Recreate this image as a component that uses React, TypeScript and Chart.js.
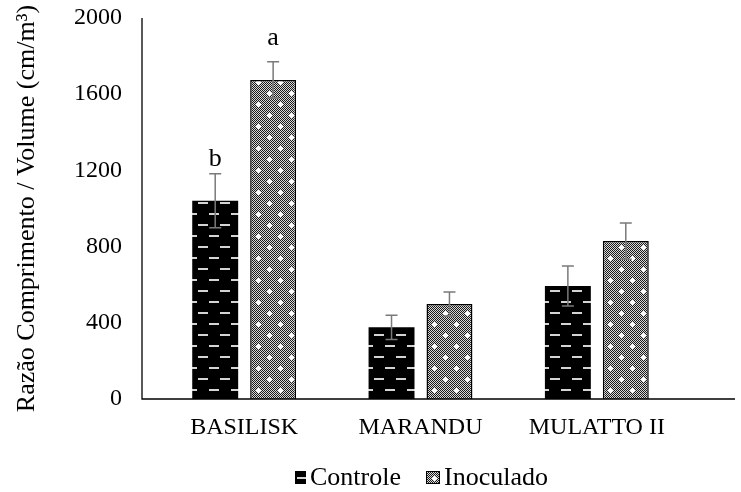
import React, { useEffect, useRef } from "react";
import { Chart, registerables } from "chart.js";

Chart.register(...registerables);

const categories = ["BASILISK", "MARANDU", "MULATTO II"];
const controle = [1041, 376, 593];
const inoculado = [1675, 499, 829];
const controleErr = [142, 64, 105];
const inoculadoErr = [95, 63, 95];
const controleLetters = ["b", "", ""];
const inoculadoLetters = ["a", "", ""];
const yTicks = [0, 400, 800, 1200, 1600, 2000];
const seriesNames = ["Controle", "Inoculado"];

const FONT = '"Liberation Serif", "Times New Roman", serif';

function makeControlePattern(ctx: CanvasRenderingContext2D) {
  const c = document.createElement("canvas");
  c.width = 22;
  c.height = 22;
  const g = c.getContext("2d")!;
  g.fillStyle = "#000";
  g.fillRect(0, 0, 22, 22);
  g.fillStyle = "#d4d4d4";
  g.fillRect(0, 4, 10, 2);
  g.fillRect(11, 15, 10, 2);
  return ctx.createPattern(c, "repeat")!;
}

function makeInoculadoPattern(ctx: CanvasRenderingContext2D) {
  const c = document.createElement("canvas");
  c.width = 22;
  c.height = 22;
  const g = c.getContext("2d")!;
  g.fillStyle = "#d8d8d8";
  g.fillRect(0, 0, 22, 22);
  g.fillStyle = "#1a1a1a";
  for (let y = 0; y < 22; y++) {
    for (let x = 0; x < 22; x++) {
      if ((x + y) % 2 === 0) g.fillRect(x, y, 1, 1);
    }
  }
  g.fillStyle = "#ffffff";
  const star = (cx: number, cy: number) => {
    g.fillRect(cx - 1, cy - 1, 3, 3);
    g.fillRect(cx - 2, cy, 5, 1);
    g.fillRect(cx, cy - 2, 1, 5);
  };
  star(5, 5);
  star(16, 16);
  return ctx.createPattern(c, "repeat")!;
}

export default function App() {
  const ref = useRef<HTMLCanvasElement | null>(null);

  useEffect(() => {
    const canvas = ref.current!;
    const ctx = canvas.getContext("2d")!;
    const pC = makeControlePattern(ctx);
    const pI = makeInoculadoPattern(ctx);
    const errs = [controleErr, inoculadoErr];
    const letters = [controleLetters, inoculadoLetters];
    const fills = [pC, pI];

    const extras = {
      id: "extras",
      afterDatasetsDraw(chart: any) {
        const c = chart.ctx;
        const y = chart.scales.y;
        const area = chart.chartArea;
        c.save();
        // axis lines
        c.strokeStyle = "#000";
        c.lineWidth = 1.3;
        c.beginPath();
        c.moveTo(area.left - 14, area.top);
        c.lineTo(area.left - 14, area.bottom);
        c.lineTo(735, area.bottom);
        c.stroke();
        // error bars
        chart.data.datasets.forEach((ds: any, di: number) => {
          const meta = chart.getDatasetMeta(di);
          meta.data.forEach((bar: any, i: number) => {
            const v = ds.data[i];
            const e = errs[di][i];
            const yt = y.getPixelForValue(v + e);
            const yb = y.getPixelForValue(v - e);
            c.strokeStyle = "#7a7a7a";
            c.lineWidth = 1.5;
            c.beginPath();
            c.moveTo(bar.x, yt);
            c.lineTo(bar.x, yb);
            c.moveTo(bar.x - 6, yt);
            c.lineTo(bar.x + 6, yt);
            c.moveTo(bar.x - 6, yb);
            c.lineTo(bar.x + 6, yb);
            c.stroke();
            const L = letters[di][i];
            if (L) {
              c.fillStyle = "#000";
              c.font = `26px ${FONT}`;
              c.textAlign = "center";
              c.textBaseline = "alphabetic";
              c.fillText(L, bar.x, y.getPixelForValue(v) - 35);
            }
          });
        });
        // legend
        c.font = `26px ${FONT}`;
        c.textBaseline = "alphabetic";
        c.textAlign = "left";
        const base = 485;
        const boxes = [
          { x: 295, w: 11 },
          { x: 426, w: 14 },
        ];
        seriesNames.forEach((n, i) => {
          const b = boxes[i];
          c.fillStyle = fills[i];
          c.fillRect(b.x, base - 14, b.w, 13);
          if (i === 1) {
            c.strokeStyle = "#000";
            c.lineWidth = 1;
            c.strokeRect(b.x + 0.5, base - 13.5, b.w - 1, 12);
          }
          c.fillStyle = "#000";
          c.fillText(n, b.x + b.w + 4, base);
        });
        c.restore();
      },
    };

    const chart = new Chart(canvas, {
      type: "bar",
      data: {
        labels: categories,
        datasets: [
          {
            label: seriesNames[0],
            data: controle,
            backgroundColor: pC,
            borderWidth: 0,
            categoryPercentage: 0.657,
            barPercentage: 0.793,
          },
          {
            label: seriesNames[1],
            data: inoculado,
            backgroundColor: pI,
            borderColor: "#000",
            borderWidth: 1.5,
            categoryPercentage: 0.657,
            barPercentage: 0.793,
          },
        ],
      },
      options: {
        animation: false,
        responsive: false,
        devicePixelRatio: 1,
        layout: { padding: { top: 18, right: 56, left: 0, bottom: 0 } },
        plugins: {
          legend: { display: false },
          tooltip: { enabled: false },
        },
        scales: {
          x: {
            grid: { display: false, drawTicks: false },
            border: { display: false },
            ticks: {
              color: "#000",
              font: { family: FONT, size: 24 },
              padding: 14,
            },
            afterFit: (s: any) => {
              s.height = 93;
              s.paddingLeft = 0;
              s.paddingRight = 0;
            },
          },
          y: {
            min: 0,
            max: 2000,
            afterBuildTicks: (s: any) => {
              s.ticks = yTicks.map((v) => ({ value: v }));
            },
            grid: { display: false, drawTicks: false },
            border: { display: false },
            ticks: {
              color: "#000",
              font: { family: FONT, size: 24 },
              padding: 34,
              callback: (v: any) => String(v),
            },
            title: {
              display: true,
              text: "Razão Comprimento / Volume (cm/m³)",
              color: "#000",
              font: { family: FONT, size: 26, weight: "normal" },
              padding: { top: 12, bottom: 0 },
            },
            afterFit: (s: any) => {
              s.width = 156;
              s.paddingTop = 0;
              s.paddingBottom = 0;
            },
          },
        },
      },
      plugins: [extras],
    } as any);
    return () => chart.destroy();
  }, []);

  return (
    <div style={{ position: "absolute", left: 0, top: 0, width: 741, height: 492, background: "#fff" }}>
      <canvas ref={ref} width={741} height={492} style={{ width: 741, height: 492 }} />
    </div>
  );
}
